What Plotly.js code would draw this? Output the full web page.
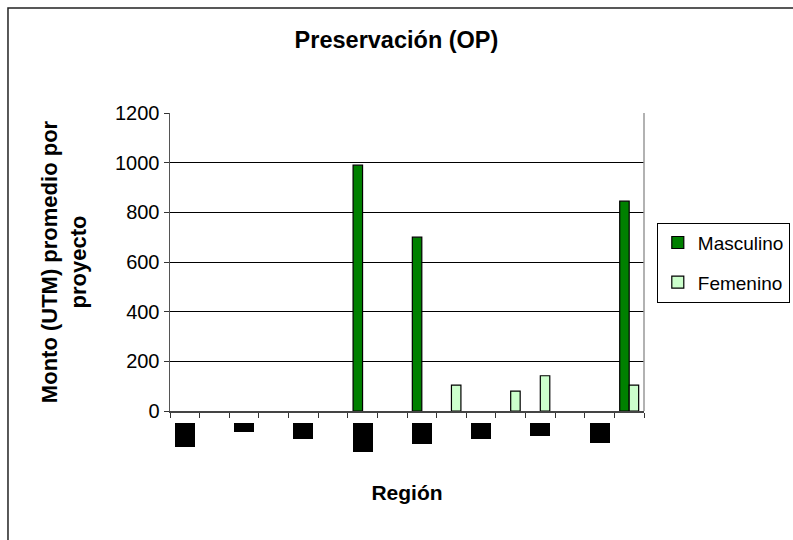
<!DOCTYPE html>
<html>
<head>
<meta charset="utf-8">
<script src="https://cdn.plot.ly/plotly-3.0.1.min.js"></script>
<style>
  html, body { margin: 0; padding: 0; background: #fff; }
  #chart { width: 793px; height: 540px; }
</style>
</head>
<body>
<div id="chart"></div>
<script>
// ---- data ----
const regiones = ["I", "II", "III", "IV", "V", "VI", "VII", "VIII",
                  "IX", "X", "XI", "XII", "XIII", "XIV", "XV", "XVI"];
const masculino = [null, null, null, null, null, null, 990, null,
                   700, null, null, null, null, null, null, 845];
const femenino  = [null, null, null, null, null, null, null, null,
                   null, 104, null, 80, 142, null, null, 104];
const yTicks = [0, 200, 400, 600, 800, 1000, 1200];
// labels shown (every other region), drawn as solid black blocks like the source
const shownLabels = ["I", "III", "V", "VII", "IX", "XI", "XIII", "XV"];
const blockHeights = [24, 9, 16, 29, 21, 16, 13, 20];

const FONT = "Liberation Sans, Arial, sans-serif";

const traces = [
  {
    type: "bar", name: "Masculino", x: regiones, y: masculino,
    marker: { color: "#008000", line: { color: "#000000", width: 1.2 } },
    legendgroup: "m"
  },
  {
    type: "bar", name: "Femenino", x: regiones, y: femenino,
    marker: { color: "#CCFFCC", line: { color: "#000000", width: 1.2 } },
    legendgroup: "f"
  }
];

const annotations = shownLabels.map((lab, i) => ({
  x: lab, xref: "x", y: 0, yref: "paper",
  yanchor: "top", xanchor: "center", yshift: -12,
  text: lab, showarrow: false,
  font: { family: FONT, size: 6, color: "#000000" },
  bgcolor: "#000000", width: 20, height: blockHeights[i],
  borderpad: 0, borderwidth: 0
}));

const layout = {
  width: 793, height: 540,
  margin: { l: 170, r: 149, t: 113, b: 129, autoexpand: false },
  paper_bgcolor: "#ffffff", plot_bgcolor: "#ffffff",
  font: { family: FONT, size: 20, color: "#000000" },
  title: {
    text: "<b>Preservación (OP)</b>",
    font: { family: FONT, size: 23.5, color: "#000000" },
    x: 0.5, xanchor: "center", y: 0.926, yanchor: "middle"
  },
  barmode: "group", bargap: 0.36, bargroupgap: 0,
  showlegend: true,
  legend: {
    x: 1.027, xanchor: "left", y: 0.632, yanchor: "top",
    bordercolor: "#000000", borderwidth: 1, bgcolor: "#ffffff",
    font: { family: FONT, size: 19, color: "#000000" },
    traceorder: "grouped", tracegroupgap: 12, itemwidth: 30
  },
  xaxis: {
    type: "category", categoryorder: "array", categoryarray: regiones,
    showticklabels: false,
    ticks: "outside", tickson: "boundaries", ticklen: 5, tickcolor: "#333333", tickwidth: 1,
    showline: true, linecolor: "#444444", linewidth: 1.5,
    showgrid: false, zeroline: false,
    title: { text: "<b>Región</b>", font: { family: FONT, size: 21, color: "#000000" }, standoff: 74 }
  },
  yaxis: {
    range: [0, 1200], tickvals: yTicks, ticktext: yTicks.map(String),
    ticks: "outside", ticklen: 5, tickcolor: "#333333", tickwidth: 1,
    showline: true, linecolor: "#555555", linewidth: 1.5, mirror: false,
    showgrid: true, gridcolor: "#000000", gridwidth: 1,
    zeroline: false,
    tickfont: { family: FONT, size: 20, color: "#000000" },
    title: {
      text: "<b>Monto (UTM) promedio por<br>proyecto</b>",
      font: { family: FONT, size: 22, color: "#000000" }, standoff: 22
    }
  },
  annotations: annotations,
  shapes: [
    {
      type: "rect", xref: "paper", yref: "paper",
      x0: -0.3418, x1: 1.5, y0: -0.6, y1: 1.3523,
      line: { color: "#222222", width: 1.5 }, fillcolor: "rgba(0,0,0,0)", layer: "below"
    },
    {
      type: "line", xref: "paper", yref: "paper",
      x0: 1, x1: 1, y0: 0, y1: 1,
      line: { color: "#999999", width: 1.5 }, layer: "above"
    }
  ]
};

Plotly.newPlot("chart", traces, layout, { displayModeBar: false, staticPlot: true });
</script>
</body>
</html>
